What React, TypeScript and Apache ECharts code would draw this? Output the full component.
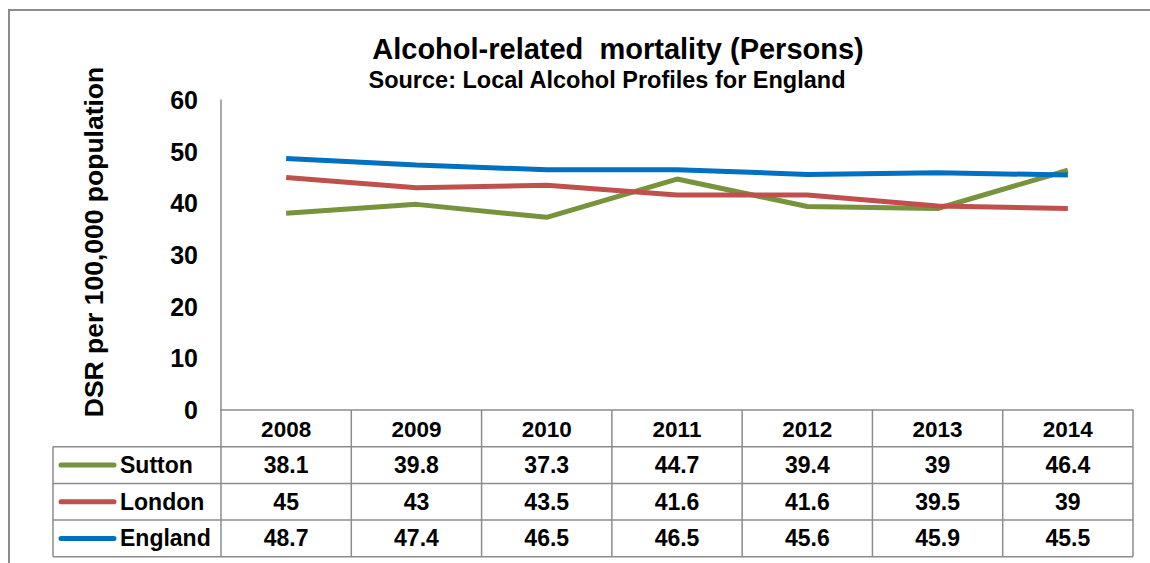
import React, { useEffect, useRef } from "react";
import * as echarts from "echarts";

const years = ["2008", "2009", "2010", "2011", "2012", "2013", "2014"];
const suttonValues = [38.1, 39.8, 37.3, 44.7, 39.4, 39, 46.4];
const londonValues = [45, 43, 43.5, 41.6, 41.6, 39.5, 39];
const englandValues = [48.7, 47.4, 46.5, 46.5, 45.6, 45.9, 45.5];
const seriesNames = ["Sutton", "London", "England"];
const seriesColors = ["#77933C", "#C0504D", "#0070C0"];
const seriesValues = [suttonValues, londonValues, englandValues];
const yTickValues = { min: 0, max: 60, interval: 10 };

const titleText = "Alcohol-related  mortality (Persons)";
const subtitleText = "Source: Local Alcohol Profiles for England";
const yAxisTitle = "DSR per 100,000 population";

const FONT = '"Liberation Sans", Arial, Helvetica, sans-serif';
const GRAY = "#8c8c8c";

function fmt(v: number): string {
  return String(v);
}

export default function App() {
  const ref = useRef<HTMLDivElement | null>(null);

  useEffect(() => {
    if (!ref.current) return;
    const chart = echarts.init(ref.current, null, { renderer: "svg" });
    chart.setOption({
      animation: false,
      grid: { left: 221, right: 17, top: 100, bottom: 153 },
      xAxis: {
        type: "category",
        data: years,
        boundaryGap: true,
        axisLine: { show: true, lineStyle: { color: GRAY, width: 1.5 } },
        axisTick: { show: false },
        axisLabel: {
          fontSize: 22.5,
          fontWeight: "bold",
          color: "#000",
          fontFamily: FONT,
          margin: 8,
        },
        splitLine: { show: false },
      },
      yAxis: {
        type: "value",
        min: yTickValues.min,
        max: yTickValues.max,
        interval: yTickValues.interval,
        axisLine: { show: true, lineStyle: { color: GRAY, width: 1.5 } },
        axisTick: { show: false },
        splitLine: { show: false },
        axisLabel: {
          fontSize: 25,
          fontWeight: "bold",
          color: "#000",
          fontFamily: FONT,
          margin: 23,
        },
      },
      series: seriesNames.map((name, i) => ({
        type: "line",
        name,
        data: seriesValues[i],
        symbol: "none",
        lineStyle: { width: 5, color: seriesColors[i] },
        itemStyle: { color: seriesColors[i] },
      })),
    });

    // Table geometry from the chart's own scales
    const xs = years.map((_, i) => chart.convertToPixel({ xAxisIndex: 0 }, i) as number);
    const colW = xs.length > 1 ? xs[1] - xs[0] : 130;
    const plotLeft = xs[0] - colW / 2;
    const plotRight = xs[xs.length - 1] + colW / 2;
    const axisY = chart.convertToPixel({ yAxisIndex: 0 }, 0) as number;
    const rowH = 36.7;
    const tableLeft = 53;
    const lineStyle = { stroke: GRAY, lineWidth: 1.5 };

    const g: any[] = [];
    // outer frame
    g.push({
      type: "rect",
      shape: { x: 9, y: 10, width: 1200, height: 620 },
      style: { fill: "none", stroke: GRAY, lineWidth: 2 },
      silent: true,
      z: -1,
    });
    // titles
    g.push({
      type: "text",
      x: 618,
      y: 49,
      style: {
        text: titleText,
        fill: "#000",
        fontSize: 29,
        fontWeight: "bold",
        fontFamily: FONT,
        align: "center",
        textAlign: "center",
        verticalAlign: "middle",
        textVerticalAlign: "middle",
      },
    });
    g.push({
      type: "text",
      x: 607,
      y: 80,
      style: {
        text: subtitleText,
        fill: "#000",
        fontSize: 23.5,
        fontWeight: "bold",
        fontFamily: FONT,
        align: "center",
        textAlign: "center",
        verticalAlign: "middle",
        textVerticalAlign: "middle",
      },
    });
    // y axis title
    g.push({
      type: "text",
      x: 94,
      y: 242,
      rotation: Math.PI / 2,
      style: {
        text: yAxisTitle,
        fill: "#000",
        fontSize: 26.5,
        fontWeight: "bold",
        fontFamily: FONT,
        align: "center",
        textAlign: "center",
        verticalAlign: "middle",
        textVerticalAlign: "middle",
      },
    });

    const tableBottom = axisY + rowH * 4;
    // horizontal table lines
    for (let r = 1; r <= 4; r++) {
      const y = axisY + rowH * r;
      g.push({
        type: "line",
        shape: { x1: tableLeft, y1: y, x2: plotRight, y2: y },
        style: lineStyle,
        silent: true,
      });
    }
    // vertical lines
    g.push({
      type: "line",
      shape: { x1: tableLeft, y1: axisY + rowH, x2: tableLeft, y2: tableBottom },
      style: lineStyle,
      silent: true,
    });
    for (let c = 0; c <= years.length; c++) {
      const x = plotLeft + colW * c;
      g.push({
        type: "line",
        shape: { x1: x, y1: axisY, x2: x, y2: tableBottom },
        style: lineStyle,
        silent: true,
      });
    }
    // rows
    seriesNames.forEach((name, r) => {
      const cy = axisY + rowH * (r + 1) + rowH / 2;
      g.push({
        type: "line",
        shape: { x1: 61, y1: cy, x2: 114, y2: cy },
        style: { stroke: seriesColors[r], lineWidth: 5, lineCap: "round" },
        silent: true,
      });
      g.push({
        type: "text",
        x: 120,
        y: cy,
        style: {
          text: name,
          fill: "#000",
          fontSize: 23,
          fontWeight: "bold",
          fontFamily: FONT,
          align: "left",
          textAlign: "left",
          verticalAlign: "middle",
          textVerticalAlign: "middle",
        },
      });
      seriesValues[r].forEach((v, i) => {
        g.push({
          type: "text",
          x: xs[i],
          y: cy,
          style: {
            text: fmt(v),
            fill: "#000",
            fontSize: 23,
            fontWeight: "bold",
            fontFamily: FONT,
            align: "center",
            textAlign: "center",
            verticalAlign: "middle",
            textVerticalAlign: "middle",
          },
        });
      });
    });

    chart.setOption({ graphic: { elements: g } });

    return () => {
      chart.dispose();
    };
  }, []);

  return (
    <div
      ref={ref}
      style={{ position: "absolute", left: 0, top: 0, width: 1150, height: 563, background: "#fff" }}
    />
  );
}
